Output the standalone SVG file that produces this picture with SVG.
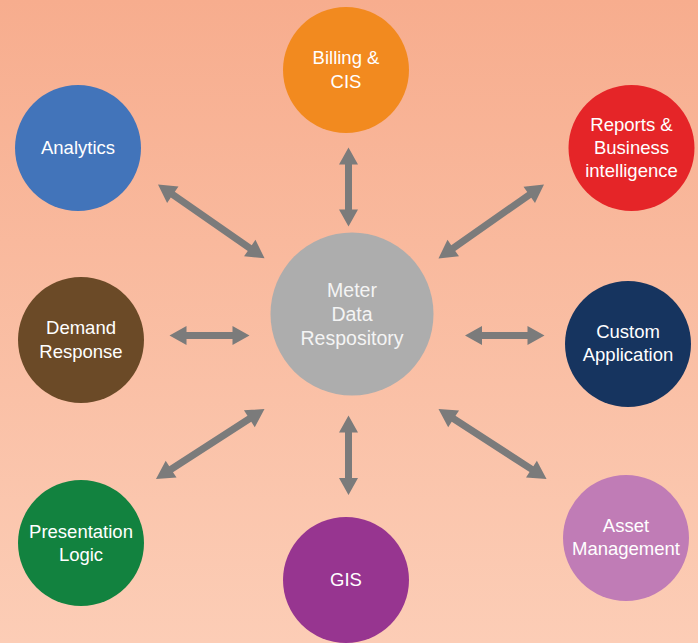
<svg xmlns="http://www.w3.org/2000/svg" width="698" height="643" viewBox="0 0 698 643">
<defs>
<linearGradient id="bg" x1="0" y1="0" x2="0" y2="1">
<stop offset="0" stop-color="#f7ad8e"/>
<stop offset="1" stop-color="#fccdb6"/>
</linearGradient>
</defs>
<style>
text{font-family:"Liberation Sans",Arial,Helvetica,sans-serif;font-size:18.5px;fill:#ffffff;text-anchor:middle}
.c text{font-size:19.5px;fill:#f4f4f4}
.arr{fill:#7b7b7b}
</style>
<rect width="698" height="643" fill="url(#bg)"/>
<g id="connectors" class="arr">
<polygon transform="translate(348.5,147.5) rotate(90)" points="0,0 17,-9.5 17,-3.5 62,-3.5 62,-9.5 79,0 62,9.5 62,3.5 17,3.5 17,9.5"/>
<polygon transform="translate(348.5,415.5) rotate(90)" points="0,0 17,-9.5 17,-3.5 62.5,-3.5 62.5,-9.5 79.5,0 62.5,9.5 62.5,3.5 17,3.5 17,9.5"/>
<polygon transform="translate(169.5,335.5)" points="0,0 17,-9.5 17,-3.5 63,-3.5 63,-9.5 80,0 63,9.5 63,3.5 17,3.5 17,9.5"/>
<polygon transform="translate(465,335.5)" points="0,0 17,-9.5 17,-3.5 62.5,-3.5 62.5,-9.5 79.5,0 62.5,9.5 62.5,3.5 17,3.5 17,9.5"/>
<polygon transform="translate(158,184.5) rotate(34.7)" points="0,0 18,-10 18,-3.5 111.6,-3.5 111.6,-10 129.6,0 111.6,10 111.6,3.5 18,3.5 18,10"/>
<polygon transform="translate(544,184.5) rotate(145)" points="0,0 18,-10 18,-3.5 110.8,-3.5 110.8,-10 128.8,0 110.8,10 110.8,3.5 18,3.5 18,10"/>
<polygon transform="translate(264.5,409) rotate(147.2)" points="0,0 18,-10 18,-3.5 111.1,-3.5 111.1,-10 129.1,0 111.1,10 111.1,3.5 18,3.5 18,10"/>
<polygon transform="translate(438.5,409) rotate(32.9)" points="0,0 18,-10 18,-3.5 110.7,-3.5 110.7,-10 128.7,0 110.7,10 110.7,3.5 18,3.5 18,10"/>
</g>
<g id="center" class="c">
<circle cx="352" cy="314" r="81.5" fill="#adadad"/>
<text x="352" y="297">Meter</text>
<text x="352" y="321">Data</text>
<text x="352" y="345">Respository</text>
</g>
<g id="billing">
<circle cx="346" cy="70" r="63" fill="#f28a1f"/>
<text x="346" y="64">Billing &amp;</text>
<text x="346" y="88">CIS</text>
</g>
<g id="reports">
<circle cx="631.5" cy="148" r="63" fill="#e52528"/>
<text x="631.5" y="131">Reports &amp;</text>
<text x="631.5" y="154">Business</text>
<text x="631.5" y="177">intelligence</text>
</g>
<g id="analytics">
<circle cx="78" cy="148" r="63" fill="#4274ba"/>
<text x="78" y="154">Analytics</text>
</g>
<g id="demand">
<circle cx="81" cy="340" r="63" fill="#6b4a27"/>
<text x="81" y="334">Demand</text>
<text x="81" y="358">Response</text>
</g>
<g id="custom">
<circle cx="628" cy="344" r="63" fill="#16345f"/>
<text x="628" y="338">Custom</text>
<text x="628" y="361">Application</text>
</g>
<g id="presentation">
<circle cx="81" cy="543" r="63" fill="#12823f"/>
<text x="81" y="538">Presentation</text>
<text x="81" y="561">Logic</text>
</g>
<g id="gis">
<circle cx="346" cy="580" r="63" fill="#973590"/>
<text x="346" y="586">GIS</text>
</g>
<g id="asset">
<circle cx="626" cy="538" r="63" fill="#c07cb6"/>
<text x="626" y="532">Asset</text>
<text x="626" y="555">Management</text>
</g>
</svg>
